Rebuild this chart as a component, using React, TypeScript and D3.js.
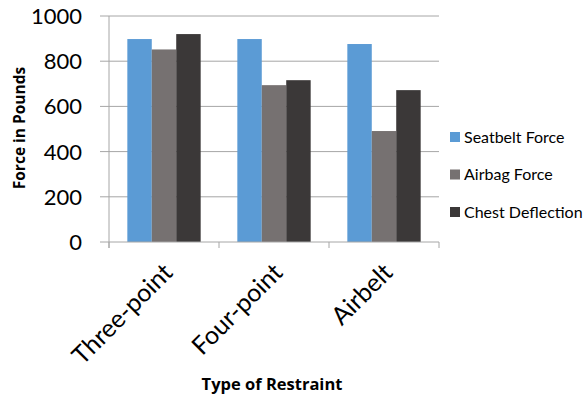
import React from "react";
import * as d3 from "d3";

const categories = ["Three-point", "Four-point", "Airbelt"];
const seriesNames = ["Seatbelt Force", "Airbag Force", "Chest Deflection"];
const seatbeltForce = [898, 898, 876];
const airbagForce = [852, 694, 491];
const chestDeflection = [920, 716, 672];
const yTicks = [0, 200, 400, 600, 800, 1000];
const colors = ["#5B9BD5", "#767171", "#3B3838"];

const series = [seatbeltForce, airbagForce, chestDeflection];

export default function App() {
  const W = 584, H = 398;
  const left = 109, right = 439, top = 16, bottom = 242;
  const font = "Lato, 'Open Sans', sans-serif";
  const titleFont = "'Open Sans', sans-serif";

  const x = d3.scaleBand<string>().domain(categories).range([left, right]).paddingInner(0).paddingOuter(0);
  const y = d3.scaleLinear().domain([0, 1000]).range([bottom, top]);
  const bw = x.bandwidth() / 4.5;
  const inner = d3.scaleBand<number>().domain([0, 1, 2]).range([0, bw * 3]);

  return (
    <svg width={W} height={H} style={{ position: "absolute", left: 0, top: 0, background: "#fff" }}>
      {/* grid lines and y ticks */}
      {yTicks.map((t) => (
        <g key={t}>
          {t > 0 && <line x1={left} x2={right} y1={y(t)} y2={y(t)} stroke="#A6A6A6" strokeWidth={1} />}
          <line x1={left - 9} x2={left} y1={y(t)} y2={y(t)} stroke="#A6A6A6" strokeWidth={1} />
          <text x={82} y={y(t)} dy="0.36em" textAnchor="end" fontFamily={font} fontSize={22} fill="#000">
            {t}
          </text>
        </g>
      ))}
      {/* bars */}
      {categories.map((c, ci) => (
        <g key={c} transform={`translate(${(x(c) as number) + bw * 0.75},0)`}>
          {series.map((s, si) => (
            <rect
              key={si}
              x={inner(si) as number}
              y={y(s[ci])}
              width={inner.bandwidth()}
              height={bottom - y(s[ci])}
              fill={colors[si]}
            />
          ))}
        </g>
      ))}
      {/* axes */}
      <line x1={left} x2={left} y1={top} y2={bottom + 6} stroke="#A6A6A6" />
      <line x1={left} x2={right} y1={bottom} y2={bottom} stroke="#A6A6A6" />
      {[...categories.map((c) => x(c) as number), right].map((px, i) => (
        <line key={i} x1={px} x2={px} y1={bottom} y2={bottom + 6} stroke="#A6A6A6" />
      ))}
      {/* category labels */}
      {categories.map((c) => {
        const cx = (x(c) as number) + x.bandwidth() / 2 + 4;
        const cy = 268;
        return (
          <text
            key={c}
            transform={`translate(${cx},${cy}) rotate(-45)`}
            textAnchor="end"
            dy="0.35em"
            fontFamily={font}
            fontSize={25}
            fill="#000"
          >
            {c}
          </text>
        );
      })}
      {/* axis titles */}
      <text
        transform={`translate(25,128) rotate(-90)`}
        textAnchor="middle"
        fontFamily={titleFont}
        fontWeight="bold"
        fontSize={15.5}
        fill="#000"
      >
        Force in Pounds
      </text>
      <text x={272} y={390} textAnchor="middle" fontFamily={titleFont} fontWeight="bold" fontSize={16.5} fill="#000">
        Type of Restraint
      </text>
      {/* legend */}
      {seriesNames.map((n, i) => {
        const ly = 137 + i * 37.5;
        return (
          <g key={n}>
            <rect x={450} y={ly - 5} width={10} height={10} fill={colors[i]} />
            <text x={464} y={ly} dy="0.35em" fontFamily={font} fontSize={16} fill="#000">
              {n}
            </text>
          </g>
        );
      })}
    </svg>
  );
}
